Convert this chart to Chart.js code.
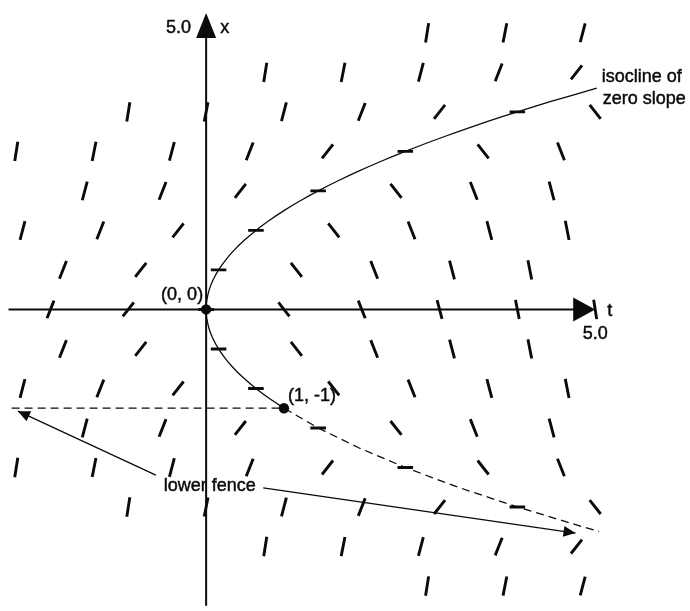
<!DOCTYPE html>
<html>
<head>
<meta charset="utf-8">
<script src="https://cdn.jsdelivr.net/npm/chart.js@4.4.1/dist/chart.umd.min.js"></script>
<style>
  html, body { margin: 0; padding: 0; background: #fff; }
  canvas { display: block; }
</style>
</head>
<body>
<canvas id="c" width="690" height="611"></canvas>
<script>
// Direction field of x' = x^2 - t, one row of short marks per level of x.
const rowLevels = [2.8, 2.4, 2.0, 1.6, 1.2, 0.8, 0.4, 0, -0.4, -0.8, -1.2, -1.6, -2.0, -2.4, -2.8];

// t position of every mark in each row
const rowTimes = [
  [2.84, 3.84, 4.84],
  [0.76, 1.76, 2.76, 3.76, 4.76],
  [-1, 0, 1, 2, 3, 4, 5],
  [-2.44, -1.44, -0.44, 0.56, 1.56, 2.56, 3.56, 4.56],
  [-1.56, -0.56, 0.44, 1.44, 2.44, 3.44, 4.44],
  [-2.36, -1.36, -0.36, 0.64, 1.64, 2.64, 3.64, 4.64],
  [-1.84, -0.84, 0.16, 1.16, 2.16, 3.16, 4.16],
  [-2, -1, 0, 1, 2, 3, 4, 5],
  [-1.84, -0.84, 0.16, 1.16, 2.16, 3.16, 4.16],
  [-2.36, -1.36, -0.36, 0.64, 1.64, 2.64, 3.64, 4.64],
  [-1.56, -0.56, 0.44, 1.44, 2.44, 3.44, 4.44],
  [-2.44, -1.44, -0.44, 0.56, 1.56, 2.56, 3.56, 4.56],
  [-1, 0, 1, 2, 3, 4, 5],
  [0.76, 1.76, 2.76, 3.76, 4.76],
  [2.84, 3.84, 4.84]
];

// slope of every mark in each row
const rowSlopes = [
  [5, 4, 3],
  [5, 4, 3, 2, 1],
  [5, 4, 3, 2, 1, 0, -1],
  [5, 4, 3, 2, 1, 0, -1, -2],
  [3, 2, 1, 0, -1, -2, -3],
  [3, 2, 1, 0, -1, -2, -3, -4],
  [2, 1, 0, -1, -2, -3, -4],
  [2, 1, 0, -1, -2, -3, -4, -5],
  [2, 1, 0, -1, -2, -3, -4],
  [3, 2, 1, 0, -1, -2, -3, -4],
  [3, 2, 1, 0, -1, -2, -3],
  [5, 4, 3, 2, 1, 0, -1, -2],
  [5, 4, 3, 2, 1, 0, -1],
  [5, 4, 3, 2, 1],
  [5, 4, 3]
];

// isocline of zero slope (t = x^2), upper branch down to (1, -1)
const isoclineX = [2.24, 2.1, 2.0, 1.9, 1.8, 1.7, 1.6, 1.5, 1.4, 1.3, 1.2, 1.1, 1.0, 0.9, 0.8, 0.7, 0.6, 0.5, 0.4, 0.3, 0.2, 0.1, 0.05, 0,
                   -0.05, -0.1, -0.2, -0.3, -0.4, -0.5, -0.6, -0.7, -0.8, -0.9, -1.0];
const isoclineT = [5.02, 4.41, 4.0, 3.61, 3.24, 2.89, 2.56, 2.25, 1.96, 1.69, 1.44, 1.21, 1.0, 0.81, 0.64, 0.49, 0.36, 0.25, 0.16, 0.09, 0.04, 0.01, 0.0025, 0,
                   0.0025, 0.01, 0.04, 0.09, 0.16, 0.25, 0.36, 0.49, 0.64, 0.81, 1.0];

// lower fence: x = -1 up to t = 1, then x = -sqrt(t)
const fenceT = [-2.5, 1, 1.44, 1.96, 2.56, 3.24, 4.0, 4.84, 5.05];
const fenceX = [-1, -1, -1.2, -1.4, -1.6, -1.8, -2.0, -2.2, -2.247];

// labelled points
const pointT = [0, 1];
const pointX = [0, -1];
const pointLabels = ['(0, 0)', '(1, -1)'];

// axis extents and end labels
const tAxisFrom = -2.54, tAxisTo = 5.0;
const xAxisFrom = -3.1, xAxisTo = 3.0;
const tAxisLabel = 't', xAxisLabel = 'x';
const tEndTick = '5.0', xEndTick = '5.0';
const isoclineLabel = ['isocline of', 'zero slope'];
const fenceLabel = 'lower fence';

const INK = '#0b0b0b';
const FONT = '18px "Liberation Sans", Arial, Helvetica, sans-serif';
const SEG = 0.2; // length of a field mark, in (t, x) units

const markData = [];
rowLevels.forEach((xv, i) => {
  rowTimes[i].forEach((tv, j) => {
    const s = rowSlopes[i][j];
    const h = SEG / 2 / Math.sqrt(1 + s * s);
    markData.push({ x: tv - h, y: xv - s * h }, { x: tv + h, y: xv + s * h }, { x: tv, y: null });
  });
});

const pairs = (ts, xs) => ts.map((t, i) => ({ x: t, y: xs[i] }));

function head(ctx, x1, y1, x2, y2, len, half) {
  const a = Math.atan2(y2 - y1, x2 - x1);
  const c = Math.cos(a), s = Math.sin(a);
  const bx = x2 - len * c, by = y2 - len * s;
  ctx.beginPath();
  ctx.moveTo(x2, y2);
  ctx.lineTo(bx - half * s, by + half * c);
  ctx.lineTo(bx + half * s, by - half * c);
  ctx.closePath();
  ctx.fill();
}

// text with a thin outline so the glyphs read a little heavier
function label(ctx, text, x, y) {
  ctx.fillText(text, x, y);
  ctx.strokeText(text, x, y);
}

const annotations = {
  id: 'annotations',
  afterDatasetsDraw(chart) {
    const ctx = chart.ctx, sx = chart.scales.x, sy = chart.scales.y;
    const P = (t, x) => [sx.getPixelForValue(t), sy.getPixelForValue(x)];
    ctx.save();
    ctx.fillStyle = INK;
    ctx.strokeStyle = INK;

    // axis arrowheads
    const [ox, oy] = P(0, 0);
    const [tx] = P(tAxisTo, 0);
    const [, xy] = P(0, xAxisTo);
    head(ctx, ox, oy, tx, oy, 22, 12);
    head(ctx, ox, oy, ox, xy, 25, 10);

    // arrows pointing at the two parts of the fence
    ctx.lineWidth = 1.3;
    const arrows = [[-0.646, -1.677, -2.418, -1.03], [0.734, -1.806, 4.747, -2.264]];
    arrows.forEach(([t1, x1, t2, x2]) => {
      const [a, b] = P(t1, x1), [c, d] = P(t2, x2);
      ctx.beginPath();
      ctx.moveTo(a, b);
      ctx.lineTo(c, d);
      ctx.stroke();
      head(ctx, a, b, c, d, 12, 5.5);
    });

    // text
    ctx.font = FONT;
    ctx.lineWidth = 0.45;
    ctx.textBaseline = 'alphabetic';
    ctx.textAlign = 'right';
    label(ctx, xEndTick, ox - 15, xy + 20);
    ctx.textAlign = 'left';
    label(ctx, xAxisLabel, ox + 14, xy + 20);
    label(ctx, tAxisLabel, tx + 12, oy + 6.5);
    ctx.textAlign = 'center';
    label(ctx, tEndTick, tx, oy + 29.5);

    const [p0x, p0y] = P(pointT[0], pointX[0]);
    ctx.textAlign = 'right';
    label(ctx, pointLabels[0], p0x - 3, p0y - 9.5);
    const [p1x, p1y] = P(pointT[1], pointX[1]);
    ctx.textAlign = 'left';
    label(ctx, pointLabels[1], p1x + 4, p1y - 7);

    const [ix, iy] = P(isoclineT[0], isoclineX[0]);
    label(ctx, isoclineLabel[0], ix + 5, iy - 6);
    label(ctx, isoclineLabel[1], ix + 6, iy + 16);

    const [lx, ly] = P(-0.544, -1.84);
    label(ctx, fenceLabel, lx, ly);
    ctx.restore();
  }
};

new Chart(document.getElementById('c'), {
  type: 'scatter',
  data: {
    datasets: [
      { // labelled points
        data: pairs(pointT, pointX), showLine: false, pointRadius: 5.2, pointBackgroundColor: INK,
        pointBorderWidth: 0, order: 0
      },
      { // direction field
        data: markData, showLine: true, spanGaps: false, borderColor: INK, borderWidth: 2.9,
        borderCapStyle: 'butt', pointRadius: 0, order: 1
      },
      { // isocline
        data: pairs(isoclineT, isoclineX), showLine: true, borderColor: INK, borderWidth: 1.3,
        tension: 0.3, pointRadius: 0, order: 2
      },
      { // lower fence
        data: pairs(fenceT, fenceX), showLine: true, borderColor: INK, borderWidth: 1.3,
        borderDash: [8, 5], pointRadius: 0, order: 2
      },
      { // t axis
        data: [{ x: tAxisFrom, y: 0 }, { x: tAxisTo - 0.2, y: 0 }], showLine: true, borderColor: INK,
        borderWidth: 2, pointRadius: 0, order: 3
      },
      { // x axis
        data: [{ x: 0, y: xAxisFrom }, { x: 0, y: xAxisTo - 0.2 }], showLine: true, borderColor: INK,
        borderWidth: 2, pointRadius: 0, order: 3
      }
    ]
  },
  options: {
    responsive: false,
    animation: false,
    devicePixelRatio: 1,
    layout: { padding: 0 },
    plugins: { legend: { display: false }, tooltip: { enabled: false } },
    events: [],
    scales: {
      x: { type: 'linear', display: false, min: -204 / 79, max: (690 - 204) / 79 },
      y: { type: 'linear', display: false, min: -(611 - 309.5) / 100.5, max: 309.5 / 100.5 }
    }
  },
  plugins: [annotations]
});
</script>
</body>
</html>
